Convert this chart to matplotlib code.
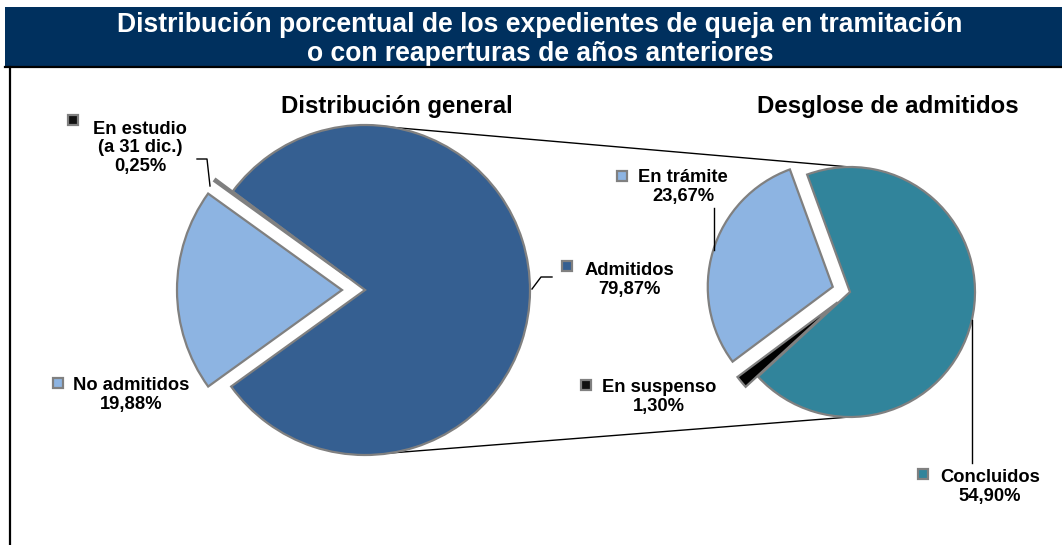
import matplotlib
matplotlib.use("Agg")
import matplotlib.pyplot as plt
from matplotlib.patches import Rectangle

# ---- data ----
gen_labels = ['Admitidos', 'En estudio\n(a 31 dic.)', 'No admitidos']
gen_values = [79.87, 0.25, 19.88]
det_labels = ['Concluidos', 'En trámite', 'En suspenso']
det_values = [54.90, 23.67, 1.30]
title_text = 'Distribución porcentual de los expedientes de queja en tramitación\no con reaperturas de años anteriores'
sub_left = 'Distribución general'
sub_right = 'Desglose de admitidos'

# ---- styles ----
gen_colors = ['#355F91', '#7F7F7F', '#8DB4E2']
det_colors = ['#31849B', '#8DB4E2', '#000000']
marker_colors_gen = ['#355F91', '#111111', '#8DB4E2']
edge = '#808080'
navy = '#00305E'
plt.rcParams['font.family'] = ['Liberation Sans', 'DejaVu Sans']

W, H = 1062, 545
fig = plt.figure(figsize=(W / 100, H / 100), dpi=100)
ax = fig.add_axes([0, 0, 1, 1])


def Y(p):
    return H - p


def fmt(v):
    return f"{v:.2f}%".replace('.', ',')


# connecting lines (under the pies)
lc, lr = (365, 290), 165
rc, rr = (850, 292), 125
ax.plot([lc[0], rc[0]], [Y(lc[1] - lr), Y(rc[1] - rr)], color='black', lw=1.0, zorder=1)
ax.plot([lc[0], rc[0]], [Y(lc[1] + lr), Y(rc[1] + rr)], color='black', lw=1.0, zorder=1)

# left pie
ax.pie(gen_values, colors=gen_colors, startangle=215.8, counterclock=True,
       explode=[0, 21, 23], center=(lc[0], Y(lc[1])), radius=lr, frame=False,
       wedgeprops=dict(edgecolor=edge, linewidth=1.6, zorder=2))
# right pie
ax.pie(det_values, colors=det_colors, startangle=222.6, counterclock=True,
       explode=[0, 18, 16], center=(rc[0], Y(rc[1])), radius=rr, frame=False,
       wedgeprops=dict(edgecolor=edge, linewidth=1.6, zorder=2))

ax.set_xlim(0, W)
ax.set_ylim(0, H)
ax.set_aspect('equal')
ax.set_axis_off()

# title bar
ax.add_patch(Rectangle((5, Y(66)), W - 5, 59, facecolor=navy, edgecolor='none', zorder=5))
ax.text(540, Y(39.5), title_text, ha='center', va='center', color='white',
        fontsize=19.1, fontweight='bold', linespacing=1.17, zorder=6)
# frame lines
ax.plot([5, W], [Y(66.5), Y(66.5)], color='black', lw=1.6, zorder=6)
ax.plot([10, 10], [Y(66.5), 0], color='black', lw=1.6, zorder=6)

# subtitles
ax.text(397, Y(106), sub_left, ha='center', va='center', fontsize=17.3, fontweight='bold')
ax.text(888, Y(106), sub_right, ha='center', va='center', fontsize=17.3, fontweight='bold')

lab_kw = dict(ha='center', va='center', fontsize=13.2, fontweight='bold', linespacing=1.1)


def marker(x, y, c):
    ax.plot([x], [Y(y)], marker='s', markersize=6.5, markerfacecolor=c,
            markeredgecolor=edge, markeredgewidth=1.6, zorder=4)


# left labels
ax.text(629, Y(280), gen_labels[0] + '\n' + fmt(gen_values[0]), **lab_kw)
marker(567, 266, marker_colors_gen[0])
ax.plot([532, 541, 552], [Y(289), Y(277), Y(277)], color='black', lw=1.0)

ax.text(140, Y(148), gen_labels[1] + '\n' + fmt(gen_values[1]), **lab_kw)
marker(73, 120, marker_colors_gen[1])
ax.plot([197, 207, 210], [Y(159), Y(159), Y(186)], color='black', lw=1.0)

ax.text(131, Y(395), gen_labels[2] + '\n' + fmt(gen_values[2]), **lab_kw)
marker(58, 383, marker_colors_gen[2])

# right labels
ax.text(990, Y(487), det_labels[0] + '\n' + fmt(det_values[0]), **lab_kw)
marker(923, 474, det_colors[0])
ax.plot([972, 972], [Y(320), Y(463)], color='black', lw=1.0)

ax.text(683, Y(187), det_labels[1] + '\n' + fmt(det_values[1]), **lab_kw)
marker(622, 176, det_colors[1])
ax.plot([714, 714], [Y(208), Y(250)], color='black', lw=1.0)

ax.text(659, Y(397), det_labels[2] + '\n' + fmt(det_values[2]), **lab_kw)
marker(586, 385, '#111111')

fig.savefig('out.png', dpi=100)
